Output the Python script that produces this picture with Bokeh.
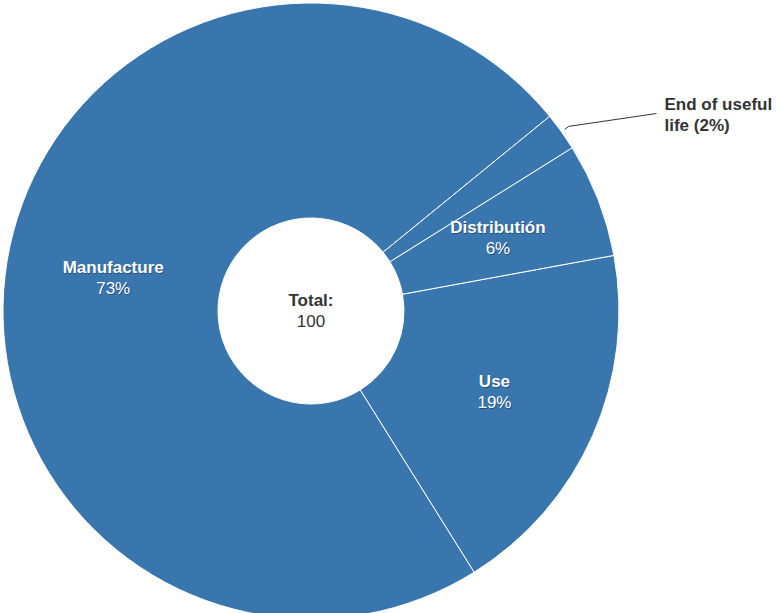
import math
from bokeh.plotting import figure
from bokeh.models import Range1d
from bokeh.core.properties import value
from bokeh.embed import file_html
from bokeh.resources import INLINE

# ---- data ----
categories = ["Manufacture", "Use", "Distributión", "End of useful life"]
values = [73, 19, 6, 2]
total_label = "Total:"
total_value = 100

# ---- layout ----
W, H = 777, 613
cx, cy = 310.5, H - 310.5
r_out, r_in = 308, 93
start_deg = 39.2
color = "#3a76ae"
font = "Liberation Sans"
fs = "17px"

p = figure(width=W, height=H, x_range=Range1d(0, W), y_range=Range1d(0, H),
           output_backend="svg", toolbar_location=None, min_border=0)
p.axis.visible = False
p.grid.visible = False
p.outline_line_color = None
p.background_fill_color = "white"

tot = sum(values)
starts, ends, mids = [], [], []
a = math.radians(start_deg)
for v in values:
    span = 2 * math.pi * v / tot
    starts.append(a)
    ends.append(a + span)
    mids.append(a + span / 2)
    a += span

p.annular_wedge(x=[cx] * len(values), y=[cy] * len(values), inner_radius=r_in, outer_radius=r_out,
                start_angle=starts, end_angle=ends, fill_color=color,
                line_color="white", line_width=1)

# inside labels
r_lab = (r_in + r_out) / 2
for i, (cat, v) in enumerate(zip(categories, values)):
    if v / tot < 0.04:
        continue
    lx = cx + r_lab * math.cos(mids[i])
    ly = cy + r_lab * math.sin(mids[i])
    for dx, dy, col, alpha in [(0.8, -0.8, "#000000", 0.35), (0, 0, "white", 1.0)]:
        p.text(x=[lx + dx], y=[ly + 10.5 + dy], text=[cat], text_font=value(font),
               text_font_style="bold", text_font_size=fs, text_color=col, text_alpha=alpha,
               text_align="center", text_baseline="middle")
        p.text(x=[lx + dx], y=[ly - 10.5 + dy], text=[f"{round(100 * v / tot)}%"], text_font=value(font),
               text_font_size=fs, text_color=col, text_alpha=alpha,
               text_align="center", text_baseline="middle")

# outside label for small slice
i = 3
m = mids[i]
x0 = cx + (r_out + 4) * math.cos(m)
y0 = cy + (r_out + 4) * math.sin(m)
x1, y1 = x0 + 4, y0 + 3
lab_x, lab_y = 664, H - 104
p.line(x=[x0, x1, lab_x - 8], y=[y0, y1, H - 113], line_color="#333333", line_width=1)
p.text(x=[lab_x], y=[lab_y], text=["End of useful"], text_font=value(font), text_font_style="bold",
       text_font_size=fs, text_color="#333333", text_align="left", text_baseline="middle")
p.text(x=[lab_x], y=[lab_y - 21], text=[f"life ({round(100 * values[i] / tot)}%)"], text_font=value(font),
       text_font_style="bold", text_font_size=fs, text_color="#333333", text_align="left",
       text_baseline="middle")

# center total
p.text(x=[cx], y=[cy + 11], text=[total_label], text_font=value(font), text_font_style="bold",
       text_font_size=fs, text_color="#333333", text_align="center", text_baseline="middle")
p.text(x=[cx], y=[cy - 10], text=[str(total_value)], text_font=value(font),
       text_font_size=fs, text_color="#333333", text_align="center", text_baseline="middle")

open("out.html", "w").write(file_html(p, INLINE))
